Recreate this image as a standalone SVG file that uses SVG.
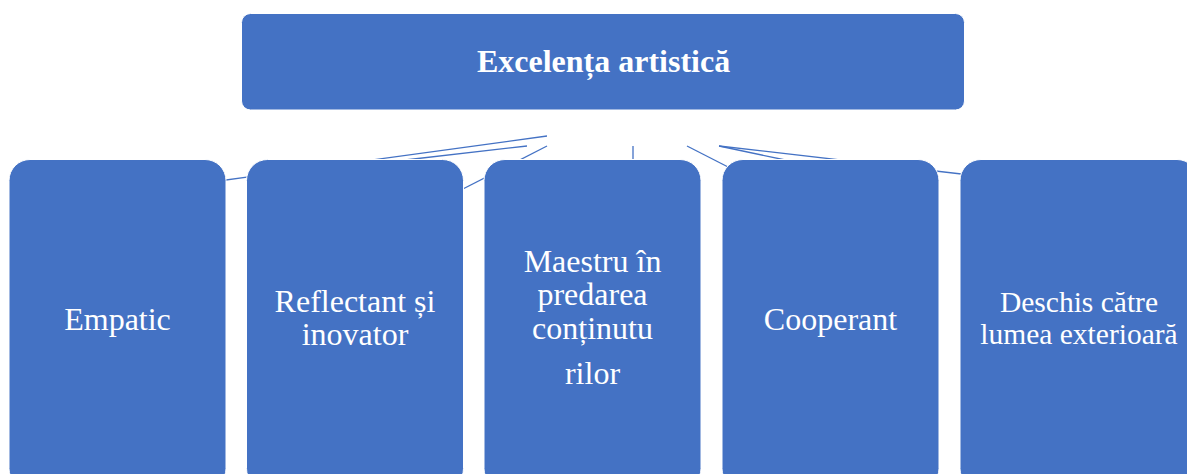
<svg xmlns="http://www.w3.org/2000/svg" width="1187" height="474" viewBox="0 0 1187 474">
<style>
.box{fill:#4472C4;stroke:#ffffff;stroke-width:1}
.conn line{stroke:#4472C4;stroke-width:1.3;fill:none}
.t{font-family:"Liberation Serif","Times New Roman",serif;fill:#ffffff;text-anchor:middle;font-size:32px}
.tb{font-weight:bold}
.ts{font-size:29.5px}
</style>
<rect width="1187" height="474" fill="#ffffff"/>
<g id="connectors" class="conn">
<line x1="547" y1="136" x2="215" y2="181.5"/>
<line x1="527" y1="146" x2="405" y2="160"/>
<line x1="547" y1="146" x2="455" y2="193"/>
<line x1="633" y1="146" x2="633" y2="168"/>
<line x1="687" y1="146" x2="732" y2="169"/>
<line x1="719" y1="146" x2="795" y2="162"/>
<line x1="719" y1="146" x2="970" y2="175"/>
</g>
<g id="node-top">
<rect class="box" x="241.5" y="13.5" width="723" height="96.5" rx="9"/>
<text class="t tb" x="603.5" y="72">Excelența artistică</text>
</g>
<g id="node-1">
<rect class="box" x="9" y="159.5" width="217" height="330" rx="21"/>
<text class="t" x="117.5" y="330">Empatic</text>
</g>
<g id="node-2">
<rect class="box" x="246.5" y="159.5" width="217" height="330" rx="21"/>
<text class="t" x="355" y="312">Reflectant și</text>
<text class="t" x="355" y="345">inovator</text>
</g>
<g id="node-3">
<rect class="box" x="484" y="159.5" width="217" height="330" rx="21"/>
<text class="t" x="592.5" y="272">Maestru în</text>
<text class="t" x="592.5" y="305">predarea</text>
<text class="t" x="592.5" y="338.5">conținutu</text>
<text class="t" x="592.5" y="384">rilor</text>
</g>
<g id="node-4">
<rect class="box" x="722" y="159.5" width="217" height="330" rx="21"/>
<text class="t" x="830.5" y="330">Cooperant</text>
</g>
<g id="node-5">
<rect class="box" x="960" y="159.5" width="238" height="330" rx="21"/>
<text class="t ts" x="1079" y="312">Deschis către</text>
<text class="t ts" x="1079" y="344">lumea exterioară</text>
</g>
</svg>
